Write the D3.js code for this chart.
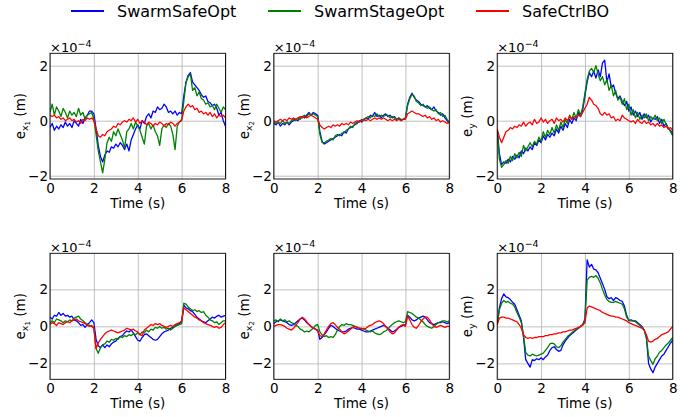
<!DOCTYPE html>
<html>
<head>
<meta charset="utf-8">
<script src="https://cdn.jsdelivr.net/npm/d3@7/dist/d3.min.js"></script>
<style>
    body { margin: 0; background: #fff; }
    svg text { font-family: "DejaVu Sans", sans-serif; fill: #000; }
</style>
</head>
<body>
<svg id="chart"></svg>
<script>
// sample times, 0.1 s step
const time = d3.range(0, 81).map(i => i / 10);

const methods = ['SwarmSafeOpt', 'SwarmStageOpt', 'SafeCtrlBO'];
const methodColors = ['#0000ff', '#008000', '#ff0000'];
const xTicks = [0, 2, 4, 6, 8];
const yTicks = [-2, 0, 2];

// ---- top row (values in 1e-4 m) ----
const ex1TopSafe = [-0.25, -0.1, -0.35, -0.2, -0.3, -0.15, -0.25, -0.05, -0.2, -0.1,
    -0.25, 0.0, -0.1, -0.2, 0.05, -0.1, 0.1, 0.2, 0.35, 0.35,
    0.25, -0.3, -0.9, -1.3, -1.5, -1.25, -1.1, -1.15, -0.95, -1.0,
    -0.85, -0.95, -0.8, -0.9, -1.05, -0.85, -1.1, -0.7, -0.5, -0.3,
    -0.15, -0.3, 0.0, -0.1, 0.15, 0.25, 0.1, 0.35, 0.3, 0.5,
    0.4, 0.45, 0.6, 0.5, 0.3, 0.35, 0.25, 0.35, 0.2, 0.3,
    0.25, 0.9, 1.4, 1.65, 1.75, 1.4, 1.3, 1.2, 1.1, 0.95,
    0.85, 0.9, 0.7, 0.65, 0.55, 0.6, 0.45, 0.2, 0.3, 0.0, -0.2];
const ex1TopStage = [0.3, 0.6, 0.2, 0.5, 0.35, 0.15, 0.45, 0.3, 0.1, 0.35,
    0.2, 0.3, 0.15, 0.45, 0.2, 0.3, 0.05, 0.2, 0.25, 0.3,
    0.05, -0.5, -1.1, -1.5, -1.9, -1.4, -0.8, -0.6, -0.75, -0.4,
    -0.55, -0.3, -0.5, -0.7, -1.0, -0.4, -0.3, -0.1, -0.3, -0.05,
    -0.2, -0.35, -0.6, -0.85, -0.2, -0.1, -0.3, -0.15, -0.4, -0.55,
    -0.9, -0.3, -0.15, -0.25, -0.1, -0.2, -0.5, -1.05, -0.2, -0.05,
    0.05, 0.7, 1.4, 1.6, 1.7, 1.1, 1.2, 0.9, 1.05, 0.8,
    0.75, 0.6, 0.65, 0.5, 0.55, 0.4, 0.6, 0.45, 0.3, 0.5, 0.4];
const ex1TopCtrl = [0.2, 0.15, 0.2, 0.1, 0.15, 0.05, 0.1, 0.0, 0.05, 0.1,
    0.0, 0.05, -0.05, 0.0, -0.1, 0.05, 0.0, 0.1, 0.05, 0.1,
    0.0, -0.3, -0.55, -0.6, -0.5, -0.55, -0.4, -0.35, -0.3, -0.2,
    -0.25, -0.1, -0.15, -0.05, 0.0, -0.05, 0.05, 0.0, 0.1, -0.05,
    0.05, -0.1, 0.0, -0.05, -0.15, -0.05, -0.1, -0.2, -0.1, -0.15,
    -0.05, -0.1, -0.2, -0.1, -0.15, -0.05, -0.1, -0.2, -0.1, -0.05,
    0.0, 0.35, 0.5, 0.6, 0.5, 0.55, 0.4, 0.45, 0.3, 0.35,
    0.25, 0.3, 0.2, 0.3, 0.15, 0.25, 0.1, 0.2, 0.15, 0.2, 0.1];

const ex2TopSafe = [-0.1, -0.15, -0.05, -0.2, -0.1, -0.15, -0.05, -0.15, -0.05, 0.0,
    0.05, 0.0, 0.1, 0.15, 0.1, 0.2, 0.3, 0.2, 0.3, 0.25,
    0.2, -0.4, -0.75, -0.85, -0.8, -0.75, -0.7, -0.65, -0.6, -0.55,
    -0.5, -0.55, -0.4, -0.45, -0.3, -0.25, -0.2, -0.15, -0.1, 0.0,
    -0.05, 0.05, 0.1, 0.05, 0.2, 0.15, 0.3, 0.15, 0.2, 0.1,
    0.2, 0.25, 0.15, 0.2, 0.1, 0.15, 0.05, 0.1, 0.0, 0.05,
    0.1, 0.6, 0.85, 1.0, 0.85, 0.75, 0.7, 0.6, 0.55, 0.5,
    0.55, 0.45, 0.4, 0.5, 0.35, 0.3, 0.2, 0.25, 0.1, 0.0, -0.1];
const ex2TopStage = [-0.05, -0.1, -0.05, -0.1, 0.0, -0.1, -0.05, -0.1, 0.0, 0.05,
    0.0, 0.1, 0.05, 0.15, 0.2, 0.15, 0.25, 0.2, 0.25, 0.2,
    0.15, -0.5, -0.8, -0.8, -0.75, -0.7, -0.65, -0.7, -0.55, -0.5,
    -0.55, -0.45, -0.45, -0.35, -0.3, -0.2, -0.25, -0.1, -0.05, -0.05,
    0.05, 0.0, 0.1, 0.15, 0.1, 0.2, 0.15, 0.25, 0.15, 0.2,
    0.15, 0.2, 0.2, 0.1, 0.15, 0.1, 0.05, 0.1, 0.05, 0.05,
    0.1, 0.55, 0.8, 0.95, 0.9, 0.7, 0.65, 0.55, 0.6, 0.5,
    0.45, 0.5, 0.4, 0.35, 0.4, 0.25, 0.3, 0.15, 0.2, 0.05, -0.05];
const ex2TopCtrl = [0.0, -0.05, 0.0, 0.05, 0.0, 0.05, 0.0, 0.1, 0.05, 0.1,
    0.05, 0.1, 0.15, 0.1, 0.15, 0.1, 0.15, 0.2, 0.15, 0.1,
    0.05, -0.15, -0.25, -0.3, -0.25, -0.2, -0.25, -0.15, -0.2, -0.15,
    -0.2, -0.1, -0.15, -0.1, -0.15, -0.05, -0.1, -0.05, 0.0, -0.05,
    0.0, 0.05, 0.0, 0.05, 0.0, 0.05, 0.1, 0.05, 0.1, 0.05,
    0.1, 0.05, 0.0, 0.05, 0.0, 0.05, 0.0, 0.05, 0.0, 0.05,
    0.05, 0.25, 0.3, 0.35, 0.3, 0.25, 0.25, 0.2, 0.15, 0.2,
    0.1, 0.15, 0.05, 0.1, 0.0, 0.05, -0.05, 0.0, -0.05, -0.1, -0.05];

const eyTopSafe = [-0.3, -1.2, -1.6, -1.5, -1.55, -1.4, -1.5, -1.3, -1.4, -1.25,
    -1.35, -1.1, -1.2, -1.0, -1.1, -0.95, -1.05, -0.8, -0.9, -0.7,
    -0.8, -0.55, -0.7, -0.5, -0.6, -0.45, -0.55, -0.3, -0.45, -0.2,
    -0.35, -0.1, -0.25, 0.05, -0.1, 0.1, 0.0, 0.3, 0.15, 0.4,
    0.9, 1.4, 1.75, 1.6, 1.8, 1.55, 1.85, 1.6, 2.1, 2.2,
    1.4, 1.7, 1.2, 1.3, 1.0, 0.8, 0.9, 0.7, 0.55, 0.7,
    0.35, 0.5, 0.2, 0.35, 0.15, 0.3, 0.05, 0.25, 0.1, 0.2,
    -0.05, 0.1, 0.05, 0.15, -0.1, 0.05, -0.2, -0.1, -0.3, -0.35, -0.5];
const eyTopStage = [-0.3, -1.4, -1.7, -1.6, -1.45, -1.55, -1.3, -1.45, -1.2, -1.35,
    -1.15, -1.3, -0.9, -1.1, -0.95, -0.8, -0.95, -0.75, -0.85, -0.6,
    -0.75, -0.4, -0.6, -0.35, -0.5, -0.25, -0.45, -0.15, -0.35, -0.05,
    -0.25, 0.05, -0.1, 0.2, 0.05, 0.3, 0.1, 0.4, 0.2, 0.5,
    1.0, 1.5, 1.8, 1.9, 1.75, 2.0, 1.7, 1.45, 1.6, 1.3,
    1.5, 1.1, 1.3, 0.9, 1.1, 0.75, 0.85, 0.6, 0.8, 0.4,
    0.6, 0.2, 0.4, 0.1, 0.3, 0.05, 0.2, 0.1, 0.25, 0.0,
    0.15, 0.05, 0.2, 0.0, 0.1, -0.1, 0.05, -0.15, -0.25, -0.4, -0.55];
const eyTopCtrl = [-0.3, -0.6, -0.8, -0.6, -0.4, -0.35, -0.25, -0.3, -0.2, -0.25,
    -0.15, -0.2, -0.05, -0.2, -0.1, -0.05, -0.15, 0.05, -0.1, -0.05,
    0.1, -0.05, 0.05, -0.1, 0.0, 0.05, -0.1, 0.1, 0.0, 0.05,
    -0.05, 0.1, 0.0, 0.15, 0.05, 0.15, 0.1, 0.2, 0.15, 0.3,
    0.45, 0.6, 0.85, 0.75, 0.6, 0.55, 0.45, 0.25, 0.2, 0.3,
    0.2, 0.25, 0.1, 0.15, 0.0, 0.05, 0.0, 0.2, 0.1, 0.05,
    0.0, -0.05, 0.0, -0.1, 0.05, -0.05, -0.1, 0.0, -0.1, -0.05,
    -0.15, -0.1, -0.2, -0.1, -0.2, -0.15, -0.25, -0.2, -0.3, -0.25, -0.35];

// ---- bottom row (values in 1e-4 m) ----
const ex1BotSafe = [0.5, 0.4, 0.6, 0.55, 0.75, 0.6, 0.7, 0.55, 0.6, 0.5,
    0.55, 0.35, 0.3, 0.2, 0.05, 0.1, -0.05, 0.1, 0.2, 0.35,
    0.2, -0.7, -1.05, -1.15, -1.0, -1.15, -1.0, -1.1, -0.95, -0.85,
    -0.8, -0.65, -0.55, -0.5, -0.35, -0.25, -0.3, -0.2, -0.35, -0.55,
    -0.75, -0.8, -0.6, -0.45, -0.4, -0.5, -0.6, -0.7, -0.75, -0.7,
    -0.55, -0.4, -0.3, -0.25, -0.2, -0.1, -0.05, 0.0, 0.1, 0.15,
    0.25, 1.15, 1.0, 0.95, 0.85, 0.8, 0.65, 0.5, 0.4, 0.3,
    0.25, 0.2, 0.3, 0.4, 0.5, 0.45, 0.55, 0.6, 0.5, 0.55, 0.6];
const ex1BotStage = [0.2, 0.3, 0.2, 0.4, 0.35, 0.3, 0.2, 0.3, 0.25, 0.35,
    0.3, 0.45, 0.5, 0.55, 0.4, 0.3, 0.2, 0.1, 0.05, 0.0,
    -0.1, -1.2, -1.45, -1.15, -1.0, -0.95, -0.8, -0.85, -0.7, -0.75,
    -0.65, -0.7, -0.55, -0.6, -0.5, -0.55, -0.45, -0.5, -0.4, -0.45,
    -0.35, -0.45, -0.3, -0.35, -0.2, -0.3, -0.15, -0.2, -0.05, -0.1,
    0.0, -0.1, -0.05, -0.15, -0.1, -0.2, -0.1, 0.0, 0.05, 0.1,
    0.15, 1.25, 1.2, 1.05, 0.95, 0.85, 0.9, 0.8, 0.85, 0.75,
    0.8, 0.6, 0.5, 0.35, 0.3, 0.2, 0.25, 0.1, 0.2, 0.3, 0.3];
const ex1BotCtrl = [0.1, 0.2, 0.15, 0.05, 0.2, 0.15, 0.1, 0.2, 0.25, 0.2,
    0.3, 0.35, 0.4, 0.3, 0.25, 0.2, 0.15, 0.05, 0.0, 0.05,
    -0.1, -1.2, -0.9, -0.7, -0.55, -0.4, -0.3, -0.25, -0.2, -0.25,
    -0.3, -0.35, -0.3, -0.25, -0.2, -0.1, -0.15, -0.2, -0.15, -0.25,
    -0.3, -0.45, -0.5, -0.2, -0.1, 0.0, 0.1, 0.05, 0.15, 0.1,
    0.15, 0.05, 0.0, -0.05, 0.0, 0.05, 0.0, 0.1, 0.15, 0.2,
    0.3, 1.0, 0.9, 0.8, 0.7, 0.6, 0.5, 0.45, 0.35, 0.3,
    0.2, 0.15, 0.1, 0.05, 0.0, -0.05, 0.0, -0.1, -0.05, 0.1, 0.2];

const ex2BotSafe = [0.15, 0.25, 0.3, 0.35, 0.3, 0.25, 0.2, 0.1, 0.05, 0.1,
    0.2, 0.3, 0.4, 0.45, 0.35, 0.2, 0.1, 0.0, -0.1, -0.15,
    -0.2, -0.7, -0.6, -0.45, -0.3, -0.1, 0.05, 0.0, -0.1, -0.2,
    -0.25, -0.3, -0.3, -0.25, -0.15, -0.1, -0.05, -0.1, -0.15, -0.15,
    -0.2, -0.25, -0.3, -0.3, -0.25, -0.2, -0.15, -0.1, -0.05, 0.0,
    0.05, 0.0, -0.1, -0.2, -0.3, -0.25, -0.15, -0.05, 0.0, 0.05,
    0.1, 0.6, 0.5, 0.35, 0.3, 0.35, 0.45, 0.5, 0.55, 0.5,
    0.35, 0.2, 0.15, 0.1, 0.15, 0.2, 0.2, 0.25, 0.2, 0.15, 0.2];
const ex2BotStage = [0.3, 0.35, 0.25, 0.4, 0.3, 0.35, 0.25, 0.3, 0.2, 0.15,
    0.05, 0.0, -0.15, -0.2, -0.3, -0.25, -0.3, -0.2, -0.1, 0.05,
    0.1, -0.3, -0.45, -0.55, -0.5, -0.6, -0.55, -0.6, -0.45, -0.2,
    0.0, 0.1, 0.05, 0.15, 0.1, 0.1, 0.05, 0.0, -0.05, -0.1,
    -0.15, -0.1, -0.2, -0.25, -0.3, -0.25, -0.35, -0.4, -0.45, -0.4,
    -0.3, -0.25, -0.15, 0.0, 0.1, 0.2, 0.25, 0.3, 0.25, 0.2,
    0.25, 0.8, 0.75, 0.7, 0.6, 0.5, 0.45, 0.35, 0.25, 0.1,
    0.0, -0.05, -0.1, 0.0, 0.1, 0.2, 0.25, 0.3, 0.3, 0.25, 0.3];
const ex2BotCtrl = [0.0, 0.05, 0.1, 0.1, 0.05, 0.0, -0.1, -0.15, -0.2, -0.1,
    0.05, 0.2, 0.4, 0.5, 0.4, 0.25, 0.1, 0.0, -0.1, -0.15,
    -0.25, -0.5, -0.55, -0.4, -0.2, 0.0, 0.15, 0.2, 0.1, -0.05,
    -0.15, -0.3, -0.4, -0.35, -0.25, -0.15, -0.05, 0.0, -0.05, -0.1,
    -0.1, -0.15, -0.1, 0.0, 0.05, 0.1, 0.2, 0.25, 0.3, 0.25,
    0.15, 0.0, -0.15, -0.3, -0.4, -0.35, -0.2, -0.05, 0.05, 0.1,
    0.0, 0.55, 0.35, 0.1, -0.05, -0.1, 0.05, 0.25, 0.4, 0.5,
    0.5, 0.35, 0.15, 0.0, -0.05, 0.0, 0.05, 0.0, -0.05, 0.0, 0.0];

const eyBotSafe = [0.1, 1.0, 1.5, 1.75, 1.6, 1.55, 1.45, 1.3, 1.2, 0.9,
    0.6, 0.3, -0.6, -1.8, -2.0, -2.2, -1.8, -1.85, -1.75, -1.8,
    -1.7, -1.8, -1.65, -1.55, -1.3, -1.15, -1.1, -1.25, -1.35, -1.3,
    -1.0, -0.8, -0.65, -0.5, -0.4, -0.3, -0.2, -0.1, 0.0, 0.1,
    0.4, 3.6, 3.2, 3.35, 3.1, 3.05, 2.9, 2.6, 2.3, 2.0,
    1.6, 1.5, 1.55, 1.4, 1.55, 1.5, 1.4, 1.35, 1.1, 0.6,
    0.3, 0.35, 0.3, 0.3, 0.2, 0.1, 0.0, -0.2, -0.6, -2.0,
    -2.3, -2.5, -2.2, -2.0, -1.8, -1.6, -1.5, -1.3, -1.1, -0.9, -0.75];
const eyBotStage = [0.1, 0.9, 1.25, 1.4, 1.3, 1.35, 1.25, 1.2, 1.05, 0.75,
    0.5, 0.2, -0.5, -1.4, -1.55, -1.6, -1.5, -1.55, -1.6, -1.55,
    -1.5, -1.45, -1.3, -1.15, -0.95, -0.9, -0.95, -1.1, -1.15, -1.05,
    -0.85, -0.7, -0.55, -0.45, -0.35, -0.25, -0.15, -0.1, 0.0, 0.1,
    0.3, 2.5, 2.65, 2.7, 2.65, 2.75, 2.6, 2.35, 2.0, 1.7,
    1.45, 1.35, 1.3, 1.3, 1.35, 1.3, 1.25, 1.2, 0.95, 0.5,
    0.35, 0.3, 0.3, 0.25, 0.15, 0.05, -0.05, -0.2, -0.6, -1.6,
    -1.85, -2.05, -1.75, -1.6, -1.4, -1.3, -1.15, -1.0, -0.9, -0.75, -0.6];
const eyBotCtrl = [0.1, 0.45, 0.5, 0.5, 0.45, 0.45, 0.4, 0.35, 0.3, 0.25,
    0.1, -0.1, -0.45, -0.6, -0.65, -0.6, -0.65, -0.6, -0.6, -0.55,
    -0.55, -0.55, -0.5, -0.5, -0.45, -0.45, -0.4, -0.4, -0.35, -0.35,
    -0.3, -0.3, -0.25, -0.2, -0.2, -0.15, -0.1, -0.05, 0.0, 0.05,
    0.2, 1.0, 1.1, 1.05, 1.0, 0.95, 0.9, 0.85, 0.75, 0.7,
    0.65, 0.6, 0.55, 0.55, 0.5, 0.5, 0.45, 0.4, 0.35, 0.3,
    0.2, 0.15, 0.1, 0.05, 0.0, -0.05, -0.1, -0.2, -0.45, -0.8,
    -0.85, -0.8, -0.7, -0.65, -0.55, -0.45, -0.4, -0.35, -0.3, -0.15, 0.0];

class ErrorPanel {

    /**
     * one subplot: error vs time for the three methods
     * @param {Object} _config
     * @param {Array} _series  three value arrays, one per method
     */
    constructor(_config, _series) {
        this.config = {
            parentElement: _config.parentElement,
            left: _config.left,
            top: _config.top,
            width: _config.width || 175.5,
            height: _config.height || 126,
            yDomain: _config.yDomain,
            sub: _config.sub,
            subsub: _config.subsub || null
        };
        this.series = _series;
        this.initVis();
    }

    initVis() {
        let vis = this;
        const c = vis.config;

        vis.g = d3.select(c.parentElement).append('g')
            .attr('transform', `translate(${c.left},${c.top})`);

        vis.xScale = d3.scaleLinear().domain([0, 8]).range([0, c.width]);
        vis.yScale = d3.scaleLinear().domain(c.yDomain).range([c.height, 0]);

        vis.renderVis();
    }

    renderVis() {
        let vis = this;
        const c = vis.config;

        // grid (under the data)
        vis.g.append('g')
            .attr('transform', `translate(0,${c.height})`)
            .call(d3.axisBottom(vis.xScale).tickValues(xTicks).tickSize(-c.height).tickFormat(''))
            .call(g => g.select('.domain').remove())
            .selectAll('line').attr('stroke', '#b0b0b0').attr('stroke-width', 0.8);

        vis.g.append('g')
            .call(d3.axisLeft(vis.yScale).tickValues(yTicks).tickSize(-c.width).tickFormat(''))
            .call(g => g.select('.domain').remove())
            .selectAll('line').attr('stroke', '#b0b0b0').attr('stroke-width', 0.8);

        const clipId = `clip-${Math.round(c.left)}-${Math.round(c.top)}`;
        vis.g.append('clipPath').attr('id', clipId)
            .append('rect').attr('width', c.width).attr('height', c.height);

        vis.lineGenerator = d3.line()
            .x((d, i) => vis.xScale(time[i]))
            .y(d => vis.yScale(d));

        vis.g.append('g')
            .attr('clip-path', `url(#${clipId})`)
            .selectAll('path')
            .data(vis.series)
            .join('path')
            .attr('fill', 'none')
            .attr('stroke', (d, i) => methodColors[i])
            .attr('stroke-width', 1.3)
            .attr('stroke-linejoin', 'round')
            .attr('d', vis.lineGenerator);

        // frame
        vis.g.append('rect')
            .attr('width', c.width).attr('height', c.height)
            .attr('fill', 'none').attr('stroke', '#000').attr('stroke-width', 0.9);

        // tick labels
        vis.g.append('g')
            .attr('transform', `translate(0,${c.height})`)
            .call(d3.axisBottom(vis.xScale).tickValues(xTicks).tickSize(0).tickPadding(4))
            .call(g => g.select('.domain').remove())
            .selectAll('text').attr('font-size', 13.5).attr('font-family', '"DejaVu Sans", sans-serif');

        vis.g.append('g')
            .call(d3.axisLeft(vis.yScale).tickValues(yTicks).tickSize(0).tickPadding(2)
                .tickFormat(d => d < 0 ? '\u2212' + Math.abs(d) : d))
            .call(g => g.select('.domain').remove())
            .selectAll('text').attr('font-size', 13.5).attr('font-family', '"DejaVu Sans", sans-serif');

        // offset text  x10^-4
        const off = vis.g.append('text')
            .attr('x', 0).attr('y', -1.8)
            .attr('font-size', 13);
        off.append('tspan').text('\u00d710');
        off.append('tspan').attr('font-size', 9.5).attr('dy', -5).text('\u22124');

        // x label
        vis.g.append('text')
            .attr('x', c.width / 2).attr('y', c.height + 29)
            .attr('text-anchor', 'middle')
            .attr('font-size', 13.5)
            .text('Time (s)');

        // y label  e_{x_1} (m)
        const yl = vis.g.append('text')
            .attr('transform', `translate(-25,${c.height / 2}) rotate(-90)`)
            .attr('text-anchor', 'middle')
            .attr('font-size', 13.5);
        yl.append('tspan').text('e');
        yl.append('tspan').attr('font-size', 9.5).attr('dy', 3).text(c.sub);
        let drop = 3;
        if (c.subsub) {
            yl.append('tspan').attr('font-size', 7).attr('dy', 2).text(c.subsub);
            drop += 2;
        }
        yl.append('tspan').attr('dy', -drop).text('\u00a0(m)');
    }
}

const svg = d3.select('#chart').attr('width', 694).attr('height', 417);

const colLefts = [50, 273.8, 497.2];
const topRow = { top: 53.3, height: 125.7, yDomain: [-2.12, 2.45] };
const botRow = { top: 253.3, height: 126, yDomain: [-2.86, 3.95] };

const panels = [
    { row: topRow, col: 0, sub: 'x', subsub: '1', series: [ex1TopSafe, ex1TopStage, ex1TopCtrl] },
    { row: topRow, col: 1, sub: 'x', subsub: '2', series: [ex2TopSafe, ex2TopStage, ex2TopCtrl] },
    { row: topRow, col: 2, sub: 'y', subsub: null, series: [eyTopSafe, eyTopStage, eyTopCtrl] },
    { row: botRow, col: 0, sub: 'x', subsub: '1', series: [ex1BotSafe, ex1BotStage, ex1BotCtrl] },
    { row: botRow, col: 1, sub: 'x', subsub: '2', series: [ex2BotSafe, ex2BotStage, ex2BotCtrl] },
    { row: botRow, col: 2, sub: 'y', subsub: null, series: [eyBotSafe, eyBotStage, eyBotCtrl] }
];

panels.forEach(p => {
    new ErrorPanel({
        parentElement: '#chart',
        left: colLefts[p.col],
        top: p.row.top,
        height: p.row.height,
        yDomain: p.row.yDomain,
        sub: p.sub,
        subsub: p.subsub
    }, p.series);
});

// legend across the top
const legendX = [71, 268, 476];
const legend = svg.append('g');
methods.forEach((m, i) => {
    legend.append('line')
        .attr('x1', legendX[i]).attr('x2', legendX[i] + 33)
        .attr('y1', 11).attr('y2', 11)
        .attr('stroke', methodColors[i]).attr('stroke-width', 2);
    legend.append('text')
        .attr('x', legendX[i] + 46).attr('y', 16.5)
        .attr('font-size', 16)
        .text(m);
});
</script>
</body>
</html>
